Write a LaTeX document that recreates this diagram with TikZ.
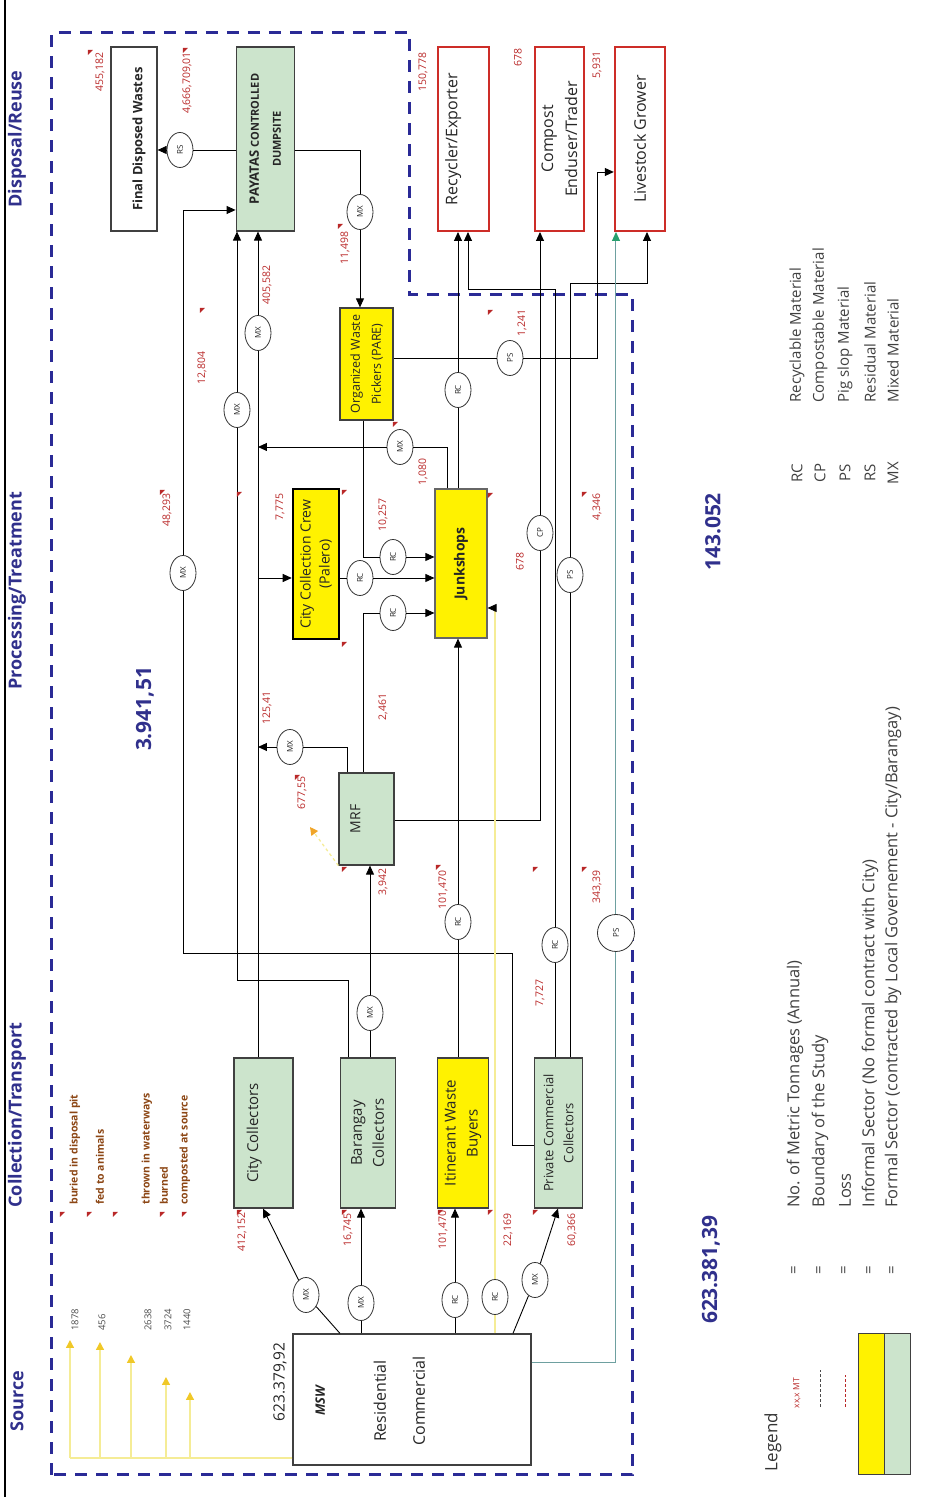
\documentclass[tikz,border=0pt]{standalone}
\usepackage{fontspec}
\setmainfont{Open Sans}
\usepackage{xcolor}
\usepackage{tikz}
\usetikzlibrary{positioning,arrows.meta,shapes.geometric}
\definecolor{formalgreen}{RGB}{204,228,204}
\definecolor{informalyellow}{RGB}{255,242,0}
\definecolor{studyblue}{RGB}{42,42,150}
\definecolor{titleblue}{RGB}{48,48,140}
\definecolor{qtyred}{RGB}{185,40,40}
\definecolor{boxred}{RGB}{205,45,40}
\definecolor{lossbrown}{RGB}{140,70,20}
\definecolor{losslight}{RGB}{245,236,150}
\definecolor{lossarrow}{RGB}{240,200,40}
\definecolor{lossorange}{RGB}{240,165,40}
\definecolor{pslopline}{RGB}{110,160,160}
\definecolor{pslopgreen}{RGB}{40,160,110}

\begin{document}
\begin{tikzpicture}[x=1pt, y=1pt, rotate=90, transform shape, line width=0.9pt,
  every node/.style={text=black!85},
  box/.style={draw=black!75, line width=1.2pt, align=center, minimum width=150pt, inner sep=1pt, font=\fontsize{15}{22}\selectfont},
  formal/.style={box, fill=formalgreen},
  informal/.style={box, fill=informalyellow},
  enduser/.style={box, draw=boxred, line width=2pt, fill=white, minimum width=184pt, font=\fontsize{16}{24}\selectfont},
  mat/.style={ellipse, draw=black!80, line width=0.8pt, fill=white, minimum width=35pt, minimum height=26pt, inner sep=0pt, font=\fontsize{8}{9}\selectfont},
  qty/.style={text=qtyred, font=\fontsize{10.5}{12}\selectfont, inner sep=0pt},
  arr/.style={-{Triangle[length=9pt,width=8pt]}},
  pslop/.style={draw=pslopline, line width=1pt},
  informalflow/.style={draw=losslight, line width=1.3pt},
  lossline/.style={draw=losslight, line width=1.3pt},
  sect/.style={text=titleblue, font=\fontsize{18}{20}\selectfont\bfseries, anchor=west, inner sep=0pt},
  total/.style={text=titleblue, font=\fontsize{21}{24}\selectfont\bfseries, inner sep=0pt},
  losstext/.style={text=lossbrown, font=\fontsize{10.5}{12}\selectfont\bfseries, anchor=west, inner sep=0pt},
  srcqty/.style={text=black!70, font=\fontsize{9.5}{11}\selectfont, anchor=west, inner sep=0pt},
  legtext/.style={text=black!75, font=\fontsize{15}{18}\selectfont, anchor=west, inner sep=0pt}
]
\useasboundingbox (0,0) rectangle (1505,928);
\draw[line width=2.5pt] (8,923) -- (1505,923);

% study boundary and stage titles
\draw[studyblue, line width=3pt, dash pattern=on 12pt off 9pt] (30,876) -- (1472,876) -- (1472,518) -- (1210,518) -- (1210,295) -- (30,295) -- cycle;
\node[sect] (tsource) at (73,911) {Source};
\node[sect] (tcollect) at (297,911) {Collection/Transport};
\node[sect] (tprocess) at (815,911) {Processing/Treatment};
\node[sect] (tdispose) at (1297,911) {Disposal/Reuse};

% source
\node[box, fill=white, minimum width=131pt, minimum height=238pt] (msw) at (105.5,516) {};
\node[inner sep=0pt, anchor=north, align=center, font=\fontsize{16}{39}\selectfont] (mswtext) at (104,613) {{\fontsize{13}{39}\selectfont\bfseries\itshape MSW}\\[22pt]Residential\\Commercial};
\node[inner sep=0pt, font=\fontsize{15.5}{18}\selectfont] (mswqty) at (123,648) {623.379,92};

% collection / transport
\node[formal, minimum height=59pt] (citycol) at (372,664.5) {City Collectors\\~};
\node[formal, minimum height=55pt, below=46pt of citycol] (brgy) {Barangay\\Collectors};
\node[informal, minimum height=51pt, below=41pt of brgy] (iwb) {Itinerant Waste\\Buyers};
\node[formal, minimum height=48pt, below=45pt of iwb, font=\fontsize{13}{20}\selectfont] (pcc) {Private Commercial\\Collectors};

% processing / treatment
\node[formal, minimum width=92pt, minimum height=55pt, font=\fontsize{14}{22}\selectfont] (mrf) at (686,561.5) {MRF\\~};
\node[informal, draw=black, line width=2.5pt, minimum height=46pt, font=\fontsize{14}{19}\selectfont] (crew) at (941,612) {City Collection Crew\\(Palero)};
\node[informal, draw=black!60, minimum width=149pt, minimum height=52pt, font=\fontsize{14}{17}\selectfont\bfseries] (junk) at (941.5,467) {Junkshops};
\node[informal, minimum width=112pt, minimum height=53pt, font=\fontsize{12.5}{21}\selectfont] (pare) at (1141,561.5) {Organized Waste\\Pickers (PARE)};

% disposal / reuse
\node[box, fill=white, minimum width=184pt, minimum height=46pt, font=\fontsize{13}{20}\selectfont\bfseries] (final) at (1366,794) {~\\Final Disposed Wastes};
\node[formal, minimum width=184pt, minimum height=58pt, below=78pt of final, font=\fontsize{11}{22}\selectfont\bfseries] (payatas) {{\fontsize{13}{22}\selectfont PAYATAS} CONTROLLED\\DUMPSITE};
\node[enduser, minimum height=51pt, below=142pt of payatas] (recycler) {Recycler/Exporter\\~};
\node[enduser, minimum height=49pt, below=44pt of recycler] (compost) {Compost\\Enduser/Trader};
\node[enduser, minimum height=50pt, below=29pt of compost] (livestock) {Livestock Grower};

% material tags
\node[mat] (rs) at (1355,748) {RS};
\node[mat] (mxa) at (1293,568) {MX};
\node[mat] (mxb) at (1172,670) {MX};
\node[mat] (mxc) at (1095,691) {MX};
\node[mat] (mxd) at (1058,528) {MX};
\node[mat] (mxe) at (758,638) {MX};
\node[mat] (mxf) at (932,745) {MX};
\node[mat] (mxg) at (210,622) {MX};
\node[mat] (mxh) at (202,567) {MX};
\node[mat] (mxi) at (225,393) {MX};
\node[mat] (mxj) at (492,558) {MX};
\node[mat] (rca) at (927,568) {RC};
\node[mat] (rcb) at (948,535) {RC};
\node[mat] (rcc) at (892,535) {RC};
\node[mat] (rcd) at (1115,470) {RC};
\node[mat] (rce) at (583,470) {RC};
\node[mat] (rcf) at (560,373) {RC};
\node[mat] (rcg) at (205,473) {RC};
\node[mat] (rch) at (208,433) {RC};
\node[mat] (psa) at (1147,418) {PS};
\node[mat] (psb) at (930,358) {PS};
\node[mat, minimum width=37pt, minimum height=37pt] (psc) at (572,312) {PS};
\node[mat] (cp) at (972,388) {CP};

% flows
\draw (payatas.north -| rs) -- (rs);
\draw[arr] (rs) -- (final.south -| rs);
\draw (payatas.south -| rs) |- (mxa);
\draw[arr] (mxa) -- (pare.east |- mxa);
\draw (citycol.east |- mxb) -- (mxb);
\draw[arr] (mxb) -- (payatas.west |- mxb);
\draw (brgy.east |- 0,580) -- (525,580) |- (mxc);
\draw[arr] (mxc) -- (payatas.west |- mxc);
\draw (pcc.north -| 360,0) |- (552,416) |- (mxf);
\draw[arr] (mxf) -| (payatas.north -| 1295,0);
\draw (junk.east |- 0,481) -| (mxd);
\draw[arr] (mxd) -- (mxd |- mxb);
\draw (mrf.east |- 0,581) -| (mxe);
\draw[arr] (mxe) -- (mxe |- mxb);
\draw[arr] (rca |- mxb) -- (crew.north -| rca);
\draw (crew.south -| rca) -- (rca);
\draw[arr] (rca) -- (junk.north -| rca);
\draw (pare.west |- 0,565) -| (rcb);
\draw[arr] (rcb) -- (junk.north -| rcb);
\draw (mrf.east |- 0,565) -| (rcc);
\draw[arr] (rcc) -- (junk.north -| rcc);
\draw (junk.east |- rcd) -- (rcd);
\draw[arr] (rcd) -- (recycler.west |- rcd);
\draw (iwb.east |- rce) -- (rce);
\draw[arr] (rce) -- (junk.west |- rce);
\draw (pcc.east |- rcf) -- (rcf);
\draw[arr] (rcf) -- (1216,373) |- (recycler.west |- 0,460);
\draw (pcc.east |- psb) -- (psb);
\draw[arr] (psb) -- (1222,358) |- (livestock.west |- 0,281);
\draw (mrf.south -| 685,0) |- (cp);
\draw[arr] (cp) -- (compost.west |- cp);
\draw (pare.south -| psa) -- (psa);
\draw[arr] (psa) |- (1333,331) -- (livestock.north -| 1333,0);
\draw (brgy.east |- mxj) -- (mxj);
\draw[arr] (mxj) -- (mrf.west |- mxj);
\draw (msw.east |- 0,588) -- (mxg);
\draw[arr] (mxg) -- (citycol.west |- 0,665);
\draw (msw.east |- mxh) -- (mxh);
\draw[arr] (mxh) -- (brgy.west |- mxh);
\draw (msw.east |- rcg) -- (rcg);
\draw[arr] (rcg) -- (iwb.west |- rcg);
\draw (msw.east |- 0,415) -- (mxi);
\draw[arr] (mxi) -- (pcc.west |- 0,370);
\draw[pslop] (msw.south -| 142,0) |- (psc);
\draw[pslop, -{Triangle[length=9pt,width=8pt,color=pslopgreen]}] (psc) -- (livestock.west |- psc);
\coordinate (jtip) at (897,433);
\draw[informalflow] (msw.east |- rch) -- (rch);
\draw[informalflow] (rch) -- (jtip);
\draw[arr] (jtip) -- (junk.south -| jtip);

% losses at source and at the MRF
\draw[lossline] (msw.north -| 47,0) -- (47,858);
\foreach \yy/\xx in {858/165,828/163,797/150,762/128,738/113}
  \draw[lossline, -{Triangle[length=8pt,width=8pt,color=lossarrow]}] (47,\yy) -- (\xx,\yy);
\draw[lossline, dashed, -{Triangle[length=8pt,width=8pt,color=lossorange]}] (mrf.north west) -- (678,618);
\node[srcqty] (s1) at (174,853) {1878};
\node[srcqty] (s2) at (174,826) {456};
\node[srcqty] (s3) at (174,780) {2638};
\node[srcqty] (s4) at (174,760) {3724};
\node[srcqty] (s5) at (174,741) {1440};
\node[losstext] (l1) at (300,853) {buried in disposal pit};
\node[losstext] (l2) at (300,828) {fed to animals};
\node[losstext] (l3) at (300,781) {thrown in waterways};
\node[losstext] (l4) at (300,764) {burned};
\node[losstext] (l5) at (300,743) {composted at source};

% tonnages
\node[qty] (q1) at (1433,828) {455,182};
\node[qty] (q2) at (1422,741) {4,666,709,01};
\node[qty] (q3) at (1433,505) {150,778};
\node[qty] (q4) at (1447,410) {678};
\node[qty] (q5) at (1440,331) {5,931};
\node[qty] (q6) at (1137,726) {12,804};
\node[qty] (q7) at (1257,583) {11,498};
\node[qty] (q8) at (1220,661) {405,582};
\node[qty] (q9) at (995,761) {48,293};
\node[qty] (q10) at (998,648) {7,775};
\node[qty] (q11) at (990,545) {10,257};
\node[qty] (q12) at (1033,505) {1,080};
\node[qty] (q13) at (798,545) {2,461};
\node[qty] (q14) at (797,661) {125,41};
\node[qty] (q15) at (712,626) {677,55};
\node[qty] (q16) at (623,545) {3,942};
\node[qty] (q17) at (615,485) {101,470};
\node[qty] (q18) at (512,388) {7,727};
\node[qty] (q19) at (618,331) {343,39};
\node[qty] (q20) at (998,331) {4,346};
\node[qty] (q21) at (943,408) {678};
\node[qty] (q22) at (1182,406) {1,241};
\node[qty] (q23) at (273,686) {412,152};
\node[qty] (q24) at (275,580) {16,745};
\node[qty] (q25) at (275,485) {101,470};
\node[qty] (q26) at (275,420) {22,169};
\node[qty] (q27) at (275,356) {60,366};
\foreach \xx/\yy in {1455/840,1457/745,1281/590,1197/728,1015/768,1013/691,1015/586,863/586,1083/535,1012/440,1013/346,1195/440,730/633,638/586,640/492,638/395,638/346,293/868,293/841,293/815,293/768,293/746,295/691,295/586,295/490,295/440,295/395}
  \fill[qtyred] (\xx,\yy) -- ++(-5,0) -- ++(5,-5) -- cycle;

% totals
\node[total] (tot1) at (235,217) {623.381,39};
\node[total] (tot2) at (796,783) {3.941,51};
\node[total] (tot3) at (973,215) {143.052};

% legend
\node[inner sep=0pt, font=\fontsize{17}{20}\selectfont, text=black!80] (legend) at (63,155) {Legend};
\node[qty, font=\fontsize{8.5}{10}\selectfont] (legqty) at (112,131) {xx,x MT};
\draw[black!70, dash pattern=on 3pt off 2pt] (98,108) -- (135,108);
\draw[qtyred, dash pattern=on 3pt off 2pt] (98,83) -- (130,83);
\node[informal, minimum width=141pt, minimum height=26pt, line width=1pt] (leginf) at (100.5,56) {};
\node[formal, minimum width=141pt, minimum height=26pt, line width=1pt] (legfor) at (100.5,30) {};
\foreach \yy in {133,108,83,58,35}
  \node[legtext, anchor=center] at (235,\yy) {=};
\node[legtext, font=\fontsize{16.5}{18}\selectfont] (lg1) at (297,133) {No. of Metric Tonnages (Annual)};
\node[legtext, font=\fontsize{16.5}{18}\selectfont] (lg2) at (297,108) {Boundary of the Study};
\node[legtext, font=\fontsize{16.5}{18}\selectfont] (lg3) at (297,83) {Loss};
\node[legtext, font=\fontsize{16.5}{18}\selectfont] (lg4) at (297,58) {Informal Sector (No formal contract with City)};
\node[legtext, font=\fontsize{16.5}{18}\selectfont] (lg5) at (297,35) {Formal Sector (contracted by Local Governement - City/Barangay)};
\foreach \yy/\ab/\desc in {131/RC/Recyclable Material,108/CP/Compostable Material,83/PS/Pig slop Material,58/RS/Residual Material,35/MX/Mixed Material}{
  \node[legtext, anchor=center] (ab\ab) at (1032,\yy) {\ab};
  \node[legtext] (de\ab) at (1102,\yy) {\desc};
}
\end{tikzpicture}
\end{document}
